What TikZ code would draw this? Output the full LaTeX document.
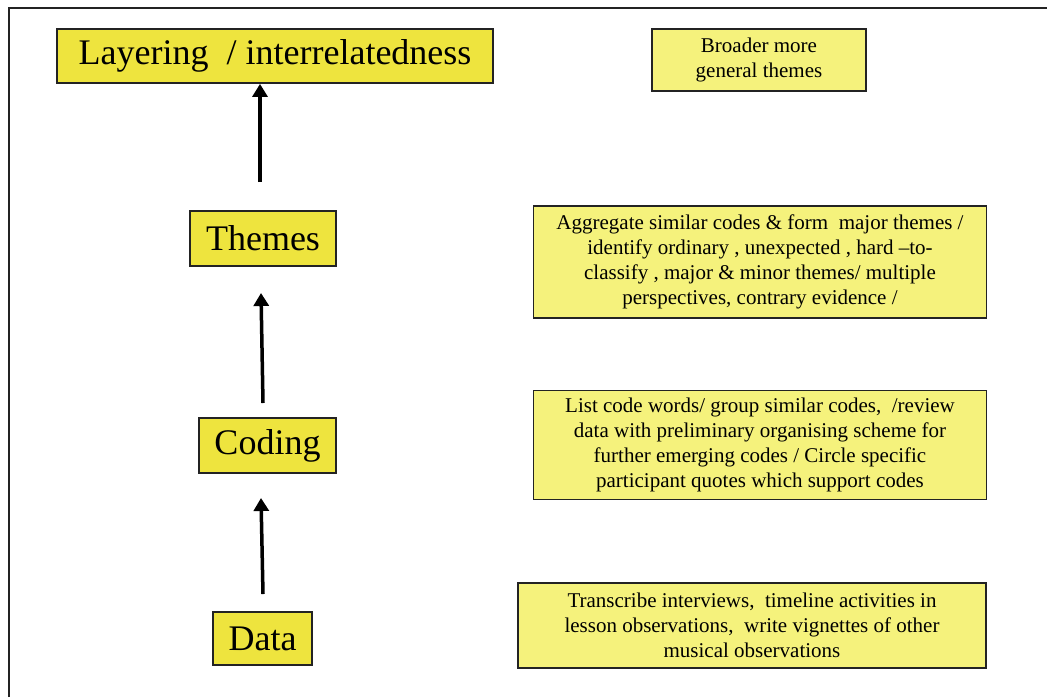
\documentclass[tikz,border=0pt]{standalone}
\usepackage{fontspec}
\setmainfont{Liberation Serif}
\usetikzlibrary{arrows.meta}
\definecolor{stageyellow}{RGB}{238,228,62}
\definecolor{noteyellow}{RGB}{245,242,124}
\definecolor{edgegray}{RGB}{35,35,35}
\begin{document}
\begin{tikzpicture}[x=1pt,y=-1pt,
  stagebox/.style={draw=edgegray, line width=1.8pt, fill=stageyellow, inner sep=0pt,
    font=\fontsize{36}{40}\selectfont},
  notebox/.style={draw=edgegray, line width=1.8pt, fill=noteyellow, inner sep=0pt,
    align=center, font=\fontsize{21}{25}\selectfont},
  uparrow/.style={line width=3.5pt, -{Triangle[width=15pt,length=13pt]}}
]
\useasboundingbox (0,0) rectangle (1047,697);
% outer frame (top and left edges)
\draw[line width=2.2pt, draw=edgegray] (9,697) -- (9,8) -- (1047,8);

% stages of the analysis
\node[stagebox, minimum width=436pt, minimum height=54pt] (lay) at (275,56) {Layering\ \ / interrelatedness};
\node[stagebox, minimum width=146pt, minimum height=55pt] (themes) at (263,238.5) {Themes};
\node[stagebox, minimum width=137pt, minimum height=55pt] (coding) at (267.5,445.5) {Coding};
\node[stagebox, minimum width=99pt, minimum height=53pt] (data) at (262.5,638.5) {Data};

% descriptions of each stage
\node[notebox, minimum width=214pt, minimum height=62pt] (broad) at (759,60)
  {Broader more\\general themes};
\node[notebox, minimum width=453pt, minimum height=112pt] (agg) at (760,262)
  {Aggregate similar codes \& form\ \ major\ themes /\\
   identify ordinary , unexpected , hard –to-\\
   classify , major \& minor themes/ multiple\\
   perspectives, contrary evidence /};
\node[notebox, minimum width=453pt, minimum height=109pt] (list) at (760,445)
  {List code words/ group similar codes,\ \ /review\\
   data with preliminary organising scheme for\\
   further emerging codes / Circle specific\\
   participant quotes which support codes};
\node[notebox, minimum width=468pt, minimum height=85pt] (trans) at (752,625.5)
  {Transcribe interviews,\ \ timeline activities in\\
   lesson observations,\ \ write vignettes of other\\
   musical observations};

% arrow ends
\coordinate (t1) at (260,182);
\coordinate (t2) at (263,403);
\coordinate (h2) at (261,293);
\coordinate (t3) at (263,594);
\coordinate (h3) at (261,498);

\draw[uparrow] (t1) -- (lay.south -| t1);
\draw[uparrow] (t2) -- (h2);
\draw[uparrow] (t3) -- (h3);
\end{tikzpicture}
\end{document}
